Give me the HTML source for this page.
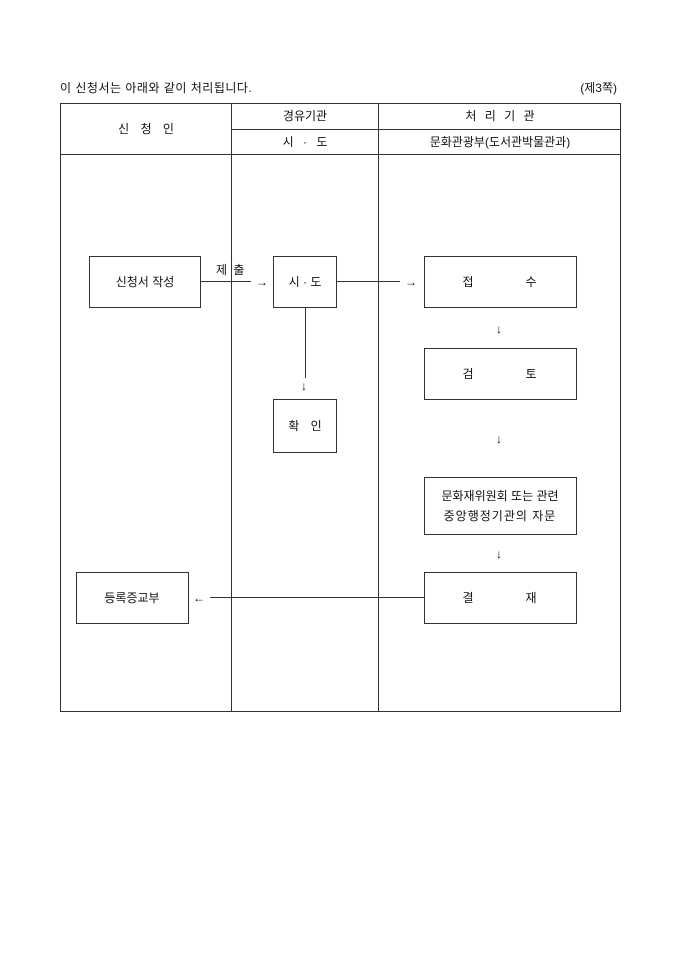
<!DOCTYPE html>
<html><head><meta charset="utf-8"><style>
html,body{margin:0;padding:0;background:#fff;width:680px;height:962px;overflow:hidden}
svg text{font-family:"Liberation Sans","Noto Sans CJK KR","NanumGothic",sans-serif;font-size:12px;fill:#111}
</style></head><body>
<svg width="680" height="962" xmlns="http://www.w3.org/2000/svg">
<text x="60" y="92" style="letter-spacing:0.5px">이 신청서는 아래와 같이 처리됩니다.</text>
<text x="617" y="92" text-anchor="end">(제3쪽)</text>
<g stroke="#333" fill="none" stroke-width="1">
<rect x="60.5" y="103.5" width="560" height="608"/>
<line x1="60" y1="154.5" x2="621" y2="154.5"/>
<line x1="231" y1="129.5" x2="621" y2="129.5"/>
<line x1="231.5" y1="103" x2="231.5" y2="712"/>
<line x1="378.5" y1="103" x2="378.5" y2="712"/>
<rect x="89.5" y="256.5" width="111" height="51"/>
<rect x="273.5" y="256.5" width="63" height="51"/>
<rect x="424.5" y="256.5" width="152" height="51"/>
<rect x="424.5" y="348.5" width="152" height="51"/>
<rect x="273.5" y="399.5" width="63" height="53"/>
<rect x="424.5" y="477.5" width="152" height="57"/>
<rect x="424.5" y="572.5" width="152" height="51"/>
<rect x="76.5" y="572.5" width="112" height="51"/>
<line x1="200" y1="281.5" x2="251" y2="281.5"/>
<line x1="336" y1="281.5" x2="400" y2="281.5"/>
<line x1="305.5" y1="307" x2="305.5" y2="378"/>
<line x1="424" y1="597.5" x2="210" y2="597.5"/>
</g>
<text x="146" y="133" text-anchor="middle" style="word-spacing:8px">신 청 인</text>
<text x="305" y="120" text-anchor="middle">경유기관</text>
<text x="305" y="146" text-anchor="middle" style="word-spacing:6px">시 · 도</text>
<text x="500" y="120" text-anchor="middle" style="word-spacing:5px">처 리 기 관</text>
<text x="500" y="146" text-anchor="middle">문화관광부(도서관박물관과)</text>
<text x="145" y="286" text-anchor="middle">신청서 작성</text>
<text x="216" y="274" style="word-spacing:3px">제 출</text>
<text x="262" y="286" text-anchor="middle">→</text>
<text x="305" y="286" text-anchor="middle">시 · 도</text>
<text x="411" y="286" text-anchor="middle">→</text>
<text x="468" y="286" text-anchor="middle">접</text>
<text x="531" y="286" text-anchor="middle">수</text>
<text x="499" y="333" text-anchor="middle">↓</text>
<text x="468" y="378" text-anchor="middle">검</text>
<text x="531" y="378" text-anchor="middle">토</text>
<text x="304" y="390" text-anchor="middle">↓</text>
<text x="305" y="430" text-anchor="middle" style="word-spacing:8px">확 인</text>
<text x="499" y="443" text-anchor="middle">↓</text>
<text x="500" y="500" text-anchor="middle">문화재위원회 또는 관련</text>
<text x="500" y="520" text-anchor="middle" style="letter-spacing:1px">중앙행정기관의 자문</text>
<text x="499" y="558" text-anchor="middle">↓</text>
<text x="468" y="602" text-anchor="middle">결</text>
<text x="531" y="602" text-anchor="middle">재</text>
<text x="132" y="602" text-anchor="middle">등록증교부</text>
<text x="199" y="602" text-anchor="middle">←</text>
</svg>
</body></html>
